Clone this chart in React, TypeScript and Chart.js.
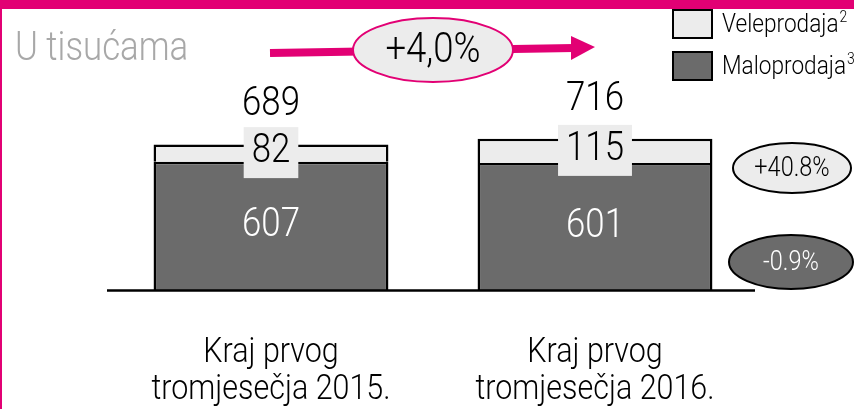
import React, { useEffect, useRef } from "react";
import { Chart, registerables } from "chart.js";

Chart.register(...registerables);

// ---- data ----
const categories: string[][] = [
  ["Kraj prvog", "tromjesečja 2015."],
  ["Kraj prvog", "tromjesečja 2016."],
];
const seriesNames = ["Maloprodaja", "Veleprodaja"];
const seriesNotes = ["3", "2"];
const maloprodaja = [607, 601];
const veleprodaja = [82, 115];
const totals = [689, 716];
const unitTitle = "U tisućama";
const changeTotal = "+4,0%";
const changeVeleprodaja = "+40.8%";
const changeMaloprodaja = "-0.9%";

// ---- style ----
const W = 854;
const H = 409;
const MAGENTA = "#E20074";
const DARK = "#6b6b6b";
const LIGHT = "#ececec";
const FONT = "Roboto, 'Liberation Sans', sans-serif";
const SX = 0.87; // horizontal condensing of text

function ellipse(ctx: CanvasRenderingContext2D, cx: number, cy: number, rx: number, ry: number, fill: string, stroke: string, lw: number) {
  ctx.beginPath();
  ctx.ellipse(cx, cy, rx, ry, 0, 0, Math.PI * 2);
  ctx.fillStyle = fill;
  ctx.fill();
  ctx.lineWidth = lw;
  ctx.strokeStyle = stroke;
  ctx.stroke();
}

function setFont(ctx: CanvasRenderingContext2D, size: number) {
  ctx.font = `300 ${size}px ${FONT}`;
}

function textW(ctx: CanvasRenderingContext2D, t: string, size: number) {
  setFont(ctx, size);
  return ctx.measureText(t).width * SX;
}

function text(
  ctx: CanvasRenderingContext2D,
  t: string,
  x: number,
  y: number,
  size: number,
  color: string,
  align: CanvasTextAlign = "center"
) {
  ctx.save();
  setFont(ctx, size);
  ctx.fillStyle = color;
  ctx.textAlign = align;
  ctx.textBaseline = "middle";
  ctx.translate(x, y);
  ctx.scale(SX, 1);
  ctx.fillText(t, 0, 0);
  ctx.restore();
}

const decor = {
  id: "decor",
  beforeDraw(chart: any) {
    const ctx: CanvasRenderingContext2D = chart.ctx;
    ctx.save();
    ctx.fillStyle = "#fff";
    ctx.fillRect(0, 0, W, H);
    ctx.restore();
  },
  afterDatasetsDraw(chart: any) {
    const ctx: CanvasRenderingContext2D = chart.ctx;
    const yScale = chart.scales.y;
    const base = yScale.getPixelForValue(0);
    ctx.save();

    // frame
    ctx.fillStyle = MAGENTA;
    ctx.fillRect(0, 0, W, 9);
    ctx.fillRect(0, 0, 2, H);

    // title
    text(ctx, unitTitle, 15, 50, 40, "#a8a8a8", "left");

    // baseline
    ctx.strokeStyle = "#000";
    ctx.lineWidth = 2.5;
    ctx.beginPath();
    ctx.moveTo(107, base + 0.5);
    ctx.lineTo(755, base + 0.5);
    ctx.stroke();

    const m0 = chart.getDatasetMeta(0).data;
    const m1 = chart.getDatasetMeta(1).data;
    for (let i = 0; i < categories.length; i++) {
      const b0 = m0[i];
      const b1 = m1[i];
      // dark segment value
      text(ctx, String(maloprodaja[i]), b0.x, (b0.y + b0.base) / 2, 40, "#fff");
      // light segment value with box
      const t = String(veleprodaja[i]);
      const tw = textW(ctx, t, 40);
      const cy = (b1.y + b1.base) / 2 - 1;
      ctx.fillStyle = LIGHT;
      ctx.fillRect(b1.x - tw / 2 - 8, cy - 25, tw + 16, 51);
      text(ctx, t, b1.x, cy, 40, "#000");
      // total
      text(ctx, String(totals[i]), b1.x, b1.y - 39, 40, "#000");
      // category labels
      categories[i].forEach((ln, k) => {
        text(ctx, ln, b0.x, 353 + k * 37, 35, "#000");
      });
    }

    // growth arrow
    ctx.strokeStyle = MAGENTA;
    ctx.lineWidth = 8;
    ctx.beginPath();
    ctx.moveTo(270, 53);
    ctx.lineTo(574, 48);
    ctx.stroke();
    ctx.fillStyle = MAGENTA;
    ctx.beginPath();
    ctx.moveTo(571, 36);
    ctx.lineTo(595, 47);
    ctx.lineTo(571, 60);
    ctx.closePath();
    ctx.fill();
    ellipse(ctx, 433, 50, 80, 32, LIGHT, MAGENTA, 2);
    text(ctx, changeTotal, 433, 51, 42, "#000");

    // change ellipses
    ellipse(ctx, 792, 168, 59, 25, LIGHT, "#000", 2);
    text(ctx, changeVeleprodaja, 792, 169, 27, "#000");
    ellipse(ctx, 791, 262, 62, 27, DARK, "#000", 2);
    text(ctx, changeMaloprodaja, 791, 263, 27, "#fff");

    // legend (top entry = top segment)
    [1, 0].forEach((di, k) => {
      const ds = chart.data.datasets[di];
      const y = 10 + k * 42;
      ctx.fillStyle = ds.backgroundColor;
      ctx.fillRect(673, y, 39, 28);
      ctx.strokeStyle = "#000";
      ctx.lineWidth = 2;
      ctx.strokeRect(673, y, 39, 28);
      const name = seriesNames[di];
      text(ctx, name, 722, y + 15, 26, "#000", "left");
      const nw = textW(ctx, name, 26);
      text(ctx, seriesNotes[di], 722 + nw + 1, y + 8, 16, "#000", "left");
    });

    ctx.restore();
  },
};

export default function App() {
  const ref = useRef<HTMLCanvasElement>(null);
  useEffect(() => {
    document.body.style.margin = "0";
    const chart = new Chart(ref.current!, {
      type: "bar",
      data: {
        labels: categories,
        datasets: [
          {
            label: seriesNames[0],
            data: maloprodaja,
            backgroundColor: DARK,
            borderColor: "#000",
            borderWidth: 2.5,
            borderSkipped: "start",
            barPercentage: 0.725,
            categoryPercentage: 1,
          },
          {
            label: seriesNames[1],
            data: veleprodaja,
            backgroundColor: LIGHT,
            borderColor: "#000",
            borderWidth: 2.5,
            borderSkipped: "start",
            barPercentage: 0.725,
            categoryPercentage: 1,
          },
        ],
      },
      options: {
        responsive: false,
        animation: false,
        layout: { padding: { left: 109, right: 97, top: 121, bottom: 119 } },
        scales: {
          x: { display: false, stacked: true },
          y: { display: false, stacked: true, min: 0, max: 800 },
        },
        plugins: { legend: { display: false }, tooltip: { enabled: false } },
      },
      plugins: [decor],
    } as any);
    return () => chart.destroy();
  }, []);
  return (
    <div style={{ position: "fixed", left: 0, top: 0, width: W, height: H }}>
      <canvas ref={ref} width={W} height={H} style={{ display: "block", width: W, height: H }} />
    </div>
  );
}
